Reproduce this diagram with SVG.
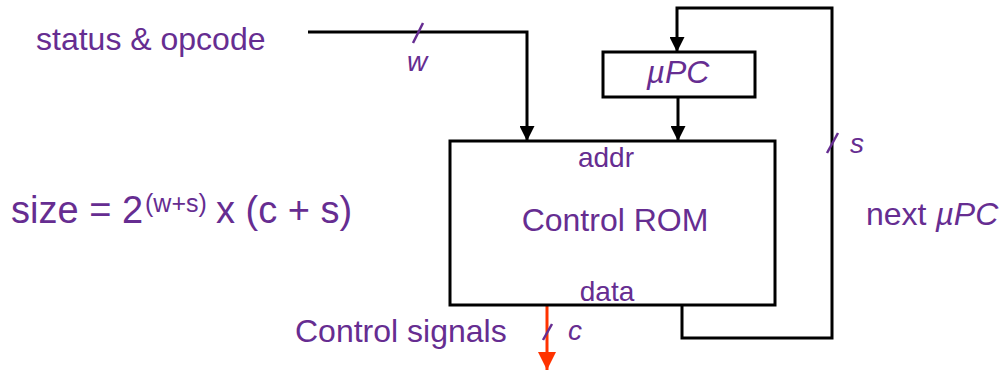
<svg xmlns="http://www.w3.org/2000/svg" width="1003" height="371" viewBox="0 0 1003 371">
<defs>
<style>
.t{font-family:"Liberation Sans",Arial,sans-serif;fill:#662d91}
.i{font-style:italic}
.w{fill:none;stroke:#000;stroke-width:3}
.sl{stroke:#662d91;stroke-width:2.5}
.box{fill:#fff;stroke:#000;stroke-width:3}
</style>
<marker id="ah" viewBox="0 0 10 10" refX="10" refY="5" markerWidth="5" markerHeight="5" markerUnits="strokeWidth" orient="auto"><path d="M0,0 L10,5 L0,10 z" fill="#000"/></marker>
<marker id="ahr" viewBox="0 0 10 10" refX="10" refY="5" markerWidth="6" markerHeight="6" markerUnits="strokeWidth" orient="auto"><path d="M0,0 L10,5 L0,10 z" fill="#ff3300"/></marker>
</defs>
<rect width="1003" height="371" fill="#fff"/>
<g id="connectors">
<path class="w" d="M308,32 H527 V141" marker-end="url(#ah)"/>
<path class="w" d="M682,305 V338 H832 V8 H677 V52" marker-end="url(#ah)"/>
<path class="w" d="M678,97 V141" marker-end="url(#ah)"/>
<path d="M547,306 V370" stroke="#ff3300" stroke-width="3" fill="none" marker-end="url(#ahr)"/>
<line class="sl" x1="413" y1="43" x2="423" y2="23"/>
<line class="sl" x1="827" y1="153" x2="838" y2="133"/>
<line class="sl" x1="543" y1="340" x2="552" y2="324"/>
</g>
<g id="rom">
<rect class="box" x="450" y="141" width="325" height="164"/>
<text class="t" x="606" y="167" font-size="28" text-anchor="middle">addr</text>
<text class="t" x="615" y="231" font-size="32" text-anchor="middle">Control ROM</text>
<text class="t" x="607" y="301" font-size="28" text-anchor="middle">data</text>
</g>
<g id="upc">
<rect class="box" x="603" y="52" width="152" height="45"/>
<text class="t i" x="678" y="83" font-size="32" text-anchor="middle">µPC</text>
</g>
<g id="labels">
<text class="t" x="36" y="50" font-size="32">status &amp; opcode</text>
<text class="t i" x="407" y="71" font-size="28">w</text>
<text class="t i" x="850" y="153" font-size="28">s</text>
<text class="t i" x="568" y="340" font-size="28">c</text>
<text class="t" x="295" y="342" font-size="32">Control signals</text>
<text class="t" x="866" y="225" font-size="32">next <tspan class="i">µPC</tspan></text>
<text class="t" x="11" y="223" font-size="38">size = 2<tspan x="145" font-size="25" dy="-11">(w+s)</tspan><tspan x="216" dy="11">x (c + s)</tspan></text>
</g>
</svg>
